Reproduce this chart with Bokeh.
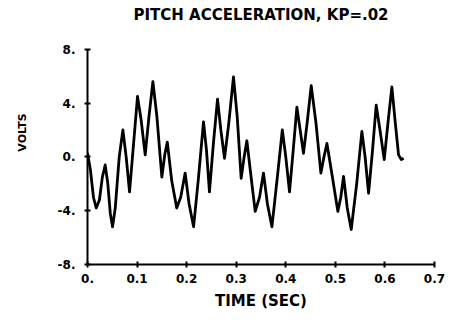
from bokeh.plotting import figure
from bokeh.models import Range1d, FixedTicker, Label
from bokeh.embed import file_html
from bokeh.resources import INLINE

# ---- data ----
time_sec = [0.000, 0.006, 0.012, 0.0176, 0.024, 0.030, 0.0357, 0.041, 0.046, 0.0505, 0.056,
            0.064, 0.0714, 0.078, 0.0848, 0.093, 0.1009, 0.108, 0.1164, 0.124, 0.1319,
            0.140, 0.150, 0.156, 0.161, 0.170, 0.180, 0.188, 0.197, 0.205, 0.214, 0.224,
            0.234, 0.240, 0.246, 0.254, 0.2623, 0.269, 0.2764, 0.285, 0.2945, 0.302,
            0.310, 0.316, 0.3215, 0.330, 0.3383, 0.347, 0.355, 0.363, 0.372, 0.383,
            0.393, 0.400, 0.4075, 0.415, 0.4224, 0.429, 0.4357, 0.443, 0.4513, 0.461,
            0.4708, 0.477, 0.483, 0.494, 0.505, 0.511, 0.5165, 0.524, 0.532, 0.543,
            0.5535, 0.560, 0.567, 0.575, 0.5824, 0.590, 0.5986, 0.606, 0.614, 0.621,
            0.6275, 0.633, 0.6377]
volts = [0.3, -1.0, -3.0, -3.8, -3.2, -1.5, -0.6, -2.0, -4.2, -5.2, -3.8,
         0.0, 2.0, 0.0, -2.6, 1.0, 4.5, 2.8, 0.15, 3.0, 5.6,
         3.0, -1.5, 0.2, 1.1, -1.8, -3.8, -3.0, -1.2, -3.5, -5.2, -1.5,
         2.6, 0.5, -2.6, 1.0, 4.3, 2.0, -0.1, 2.5, 5.95, 3.0,
         -1.6, 0.0, 1.2, -1.5, -4.05, -3.0, -1.2, -3.5, -5.2, -1.5,
         2.0, 0.0, -2.6, 0.5, 3.7, 2.0, 0.27, 2.5, 5.3, 2.5,
         -1.2, 0.0, 1.0, -1.5, -4.05, -3.0, -1.45, -3.8, -5.4, -2.0,
         1.9, 0.0, -2.7, 0.5, 3.85, 2.0, -0.2, 2.5, 5.2, 2.5,
         0.15, -0.2, -0.1]

x_ticks = [0.0, 0.1, 0.2, 0.3, 0.4, 0.5, 0.6, 0.7]
x_tick_labels = ["0.", "0.1", "0.2", "0.3", "0.4", "0.5", "0.6", "0.7"]
y_ticks = [-8, -4, 0, 4, 8]
y_tick_labels = ["-8.", "-4.", "0.", "4.", "8."]

title_text = "PITCH ACCELERATION, KP=.02"
x_label = "TIME (SEC)"
y_label = "VOLTS"

FONT = "DejaVu Sans"

# The frame reaches to the top of the canvas so the title can sit inside it;
# the y axis line itself is bounded to -8 .. 8.
Y_TOP = 8 + 49 * 16 / 216
p = figure(width=452, height=312, output_backend="svg", toolbar_location=None,
           x_range=Range1d(0, 0.7), y_range=Range1d(-8, Y_TOP),
           min_border_left=87, min_border_right=18, min_border_top=0,
           min_border_bottom=47)

p.outline_line_color = None
p.xgrid.visible = False
p.ygrid.visible = False

p.add_layout(Label(x=0.35, y=8 + 34 * 16 / 216, text=title_text, text_align="center",
                   text_baseline="middle", text_font=FONT, text_font_style="bold",
                   text_font_size="15px", text_color="black"))

for ax, ticks, labels in ((p.xaxis[0], x_ticks, x_tick_labels), (p.yaxis[0], y_ticks, y_tick_labels)):
    ax.ticker = FixedTicker(ticks=ticks)
    ax.major_label_overrides = {t: l for t, l in zip(ticks, labels)}
    ax.axis_line_color = "black"
    ax.axis_line_width = 2
    ax.major_tick_line_color = "black"
    ax.major_tick_line_width = 2
    ax.major_tick_in = 3
    ax.major_tick_out = 3
    ax.minor_tick_line_color = None
    ax.major_label_text_font = FONT
    ax.major_label_text_font_style = "bold"
    ax.major_label_text_font_size = "12px"
    ax.major_label_text_color = "black"
    ax.axis_label_text_font = FONT
    ax.axis_label_text_font_style = "bold"
    ax.axis_label_text_color = "black"

p.yaxis.bounds = (-8, 8)
p.xaxis.axis_label = x_label
p.yaxis.axis_label = y_label
p.xaxis.axis_label_text_font_size = "15px"
p.yaxis.axis_label_text_font_size = "11px"
p.xaxis.major_label_standoff = 6
p.xaxis.axis_label_standoff = 6
p.yaxis.major_label_standoff = 9
p.yaxis.axis_label_standoff = 26

p.line(time_sec, volts, line_color="black", line_width=2.8, line_join="round")

open("out.html", "w").write(file_html(p, INLINE))
